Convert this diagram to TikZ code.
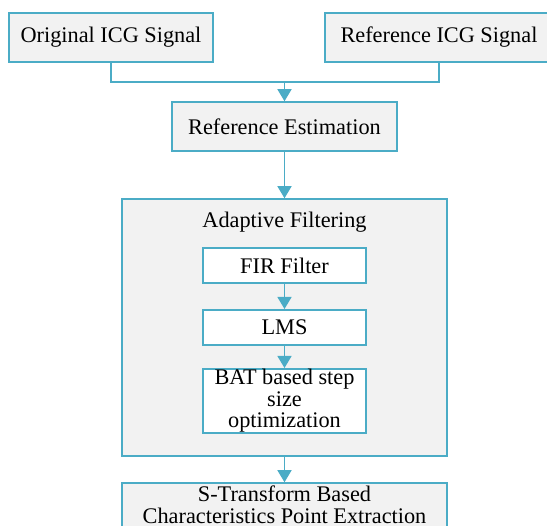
\documentclass[tikz,border=0pt]{standalone}
\usepackage{fontspec}
\setmainfont{Liberation Serif}
\usetikzlibrary{arrows.meta}
\definecolor{edgeblue}{RGB}{75,172,198}
\definecolor{boxgray}{RGB}{242,242,242}
\begin{document}
\begin{tikzpicture}[x=1pt,y=-1pt,
  every node/.style={font=\fontsize{22.3}{21.5}\selectfont},
  graybox/.style={draw=edgeblue,line width=1.5pt,fill=boxgray,inner sep=0pt,align=center},
  whitebox/.style={draw=edgeblue,line width=2pt,fill=white,inner sep=0pt,align=center,minimum width=163pt},
  conn/.style={draw=edgeblue,line width=1.5pt},
  arr/.style={conn,-{Triangle[width=14pt,length=12pt]}}]
\useasboundingbox (0,0) rectangle (547,526);
\clip (0,0) rectangle (547,526);
\fill[white] (0,0) rectangle (547,526);
\node[graybox,minimum width=204pt,minimum height=49pt] (orig) at (111,37.5) {Original ICG Signal};
\node[graybox,minimum width=228pt,minimum height=49pt] (ref) at (439,37.5) {Reference ICG Signal};
\node[graybox,minimum width=225pt,minimum height=49pt] (refest) at (284.5,126.5) {Reference Estimation};
\node[graybox,minimum width=325pt,minimum height=257pt] (adapt) at (284.5,327.5) {};
\node (adlabel) at (284.5,222) {Adaptive Filtering};
\node[whitebox,minimum height=35pt] (fir) at (284.5,265.5) {FIR Filter};
\node[whitebox,minimum height=35pt] (lms) at (284.5,327.5) {LMS};
\node[whitebox,minimum height=64pt] (bat) at (284.5,401) {BAT based step\\size\\optimization};
\node[graybox,minimum width=325pt,minimum height=44pt] (st) at (284.5,505) {S-Transform Based\\Characteristics Point Extraction};
\coordinate (j) at (284.5,82);
\draw[conn] (orig.south) |- (j) -| (ref.south);
\draw[arr] (j) -- (refest.north);
\draw[arr] (refest.south) -- (adapt.north);
\draw[arr] (fir.south) -- (lms.north);
\draw[arr] (lms.south) -- (bat.north);
\draw[arr] (adapt.south) -- (st.north);
\end{tikzpicture}
\end{document}
